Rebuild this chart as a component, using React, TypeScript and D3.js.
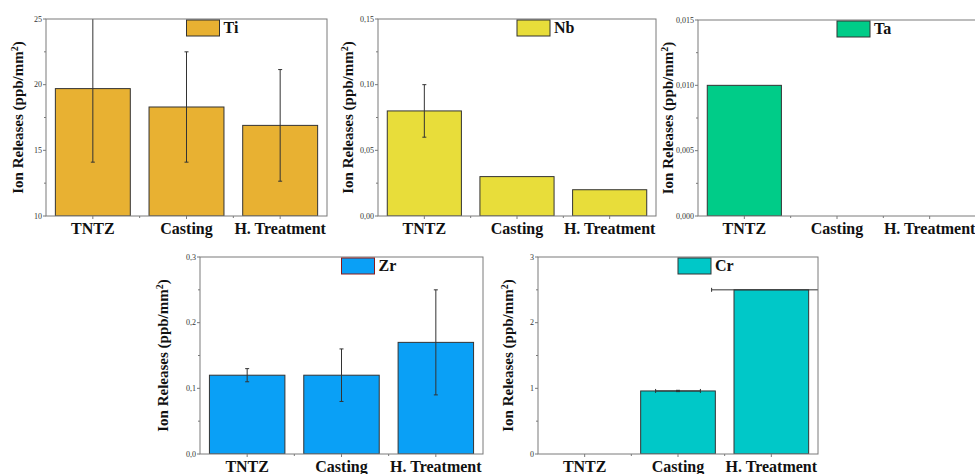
import * as d3 from "d3";
import React from "react";

// categories shared by every panel
const categories = ["TNTZ", "Casting", "H. Treatment"];

// ion release values (ppb/mm2) and error bars
const tiValues = [19.7, 18.3, 16.9];
const tiErrors = [5.6, 4.2, 4.25];
const nbValues = [0.08, 0.03, 0.02];
const nbErrors = [0.02, 0, 0];
const taValues = [0.01, 0, 0];
const taErrors = [0, 0, 0];
const zrValues = [0.12, 0.12, 0.17];
const zrErrors = [0.01, 0.04, 0.08];
const crValues = [0, 0.96, 2.5];
const crErrors = [0, 0.01, 0];
const crXErrors = [0, 0.24, 0.64];

const tiTicks = [10, 15, 20, 25];
const nbTicks = [0, 0.05, 0.1, 0.15];
const taTicks = [0, 0.005, 0.01, 0.015];
const zrTicks = [0, 0.1, 0.2, 0.3];
const crTicks = [0, 1, 2, 3];

const serif = "'Liberation Serif', 'Times New Roman', serif";

type PanelProps = {
  id: string;
  name: string;
  values: number[];
  errors: number[];
  xErrors?: number[];
  ticks: number[];
  decimals: number;
  color: string;
  legendStroke?: string;
  left: number;
  right: number;
  top: number;
  bottom: number;
  labelOffset: number;
};

const fmt = (v: number, d: number) => v.toFixed(d).replace(".", ",");

const Panel = (p: PanelProps) => {
  const x = d3.scaleLinear().domain([0.5, 3.5]).range([p.left, p.right]);
  const y = d3
    .scaleLinear()
    .domain([p.ticks[0], p.ticks[p.ticks.length - 1]])
    .range([p.bottom, p.top]);
  const step = p.ticks[1] - p.ticks[0];
  const minor = p.ticks.slice(0, -1).map((t) => t + step / 2);
  const bw = x(1.4) - x(1);
  const cap = 2;
  const clip = "clip-" + p.id;
  const y0 = p.ticks[0];

  return (
    <g>
      <defs>
        <clipPath id={clip}>
          <rect x={p.left} y={p.top} width={p.right - p.left} height={p.bottom - p.top} />
        </clipPath>
      </defs>
      <g clipPath={`url(#${clip})`}>
        {p.values.map((v, i) =>
          v > y0 ? (
            <rect
              key={i}
              x={x(i + 1) - bw}
              y={y(v)}
              width={bw * 2}
              height={y(y0) - y(v)}
              fill={p.color}
              stroke="#333"
              strokeWidth={1}
            />
          ) : null
        )}
        {p.values.map((v, i) =>
          p.errors[i] > 0 ? (
            <g key={"e" + i} stroke="#333" strokeWidth={1}>
              <line x1={x(i + 1)} x2={x(i + 1)} y1={y(v - p.errors[i])} y2={y(v + p.errors[i])} />
              <line x1={x(i + 1) - cap} x2={x(i + 1) + cap} y1={y(v - p.errors[i])} y2={y(v - p.errors[i])} />
              <line x1={x(i + 1) - cap} x2={x(i + 1) + cap} y1={y(v + p.errors[i])} y2={y(v + p.errors[i])} />
            </g>
          ) : null
        )}
        {p.xErrors &&
          p.xErrors.map((e, i) =>
            e > 0 ? (
              <g key={"xe" + i} stroke="#333" strokeWidth={1}>
                <line x1={x(i + 1 - e)} x2={x(i + 1 + e)} y1={y(p.values[i])} y2={y(p.values[i])} />
                <line x1={x(i + 1 - e)} x2={x(i + 1 - e)} y1={y(p.values[i]) - cap} y2={y(p.values[i]) + cap} />
                <line x1={x(i + 1 + e)} x2={x(i + 1 + e)} y1={y(p.values[i]) - cap} y2={y(p.values[i]) + cap} />
              </g>
            ) : null
          )}
      </g>
      <rect
        x={p.left}
        y={p.top}
        width={p.right - p.left}
        height={p.bottom - p.top}
        fill="none"
        stroke="#7a7a7a"
        strokeWidth={1}
      />
      {/* y axis ticks */}
      {p.ticks.map((t) => (
        <g key={"yt" + t}>
          <line x1={p.left - 3} x2={p.left} y1={y(t)} y2={y(t)} stroke="#7a7a7a" />
          <text
            x={p.left - 4}
            y={y(t)}
            dy="0.32em"
            textAnchor="end"
            fontFamily={serif}
            fontSize={8}
            fill="#333"
          >
            {fmt(t, p.decimals)}
          </text>
        </g>
      ))}
      {minor.map((t) => (
        <line key={"ym" + t} x1={p.left - 2} x2={p.left} y1={y(t)} y2={y(t)} stroke="#7a7a7a" />
      ))}
      {/* x axis ticks */}
      {categories.map((c, i) => (
        <g key={c}>
          <line x1={x(i + 1)} x2={x(i + 1)} y1={p.bottom} y2={p.bottom + 3} stroke="#7a7a7a" />
          <text
            x={x(i + 1)}
            y={p.bottom + 18}
            textAnchor="middle"
            fontFamily={serif}
            fontWeight="bold"
            fontSize={16}
            fill="#111"
          >
            {c}
          </text>
        </g>
      ))}
      {[1.5, 2.5].map((m) => (
        <line key={"xm" + m} x1={x(m)} x2={x(m)} y1={p.bottom} y2={p.bottom + 2} stroke="#7a7a7a" />
      ))}
      {/* y label */}
      <text
        transform={`translate(${p.left - p.labelOffset},${(p.top + p.bottom) / 2}) rotate(-90)`}
        dy="0.35em"
        textAnchor="middle"
        fontFamily={serif}
        fontWeight="bold"
        fontSize={15}
        fill="#111"
      >
        Ion Releases (ppb/mm
        <tspan dy="-5" fontSize={10}>
          2
        </tspan>
        <tspan dy="5">)</tspan>
      </text>
      {/* legend */}
      <rect
        x={x(2)}
        y={p.top + 1}
        width={33}
        height={16}
        fill={p.color}
        stroke={p.legendStroke || "#333"}
        strokeWidth={1}
      />
      <text
        x={x(2) + 37}
        y={p.top + 14}
        fontFamily={serif}
        fontWeight="bold"
        fontSize={16}
        fill="#111"
      >
        {p.name}
      </text>
    </g>
  );
};

export default function App() {
  return (
    <svg
      width={975}
      height={474}
      style={{ position: "absolute", left: 0, top: 0, background: "#fff" }}
    >
      <Panel id="ti" name="Ti" values={tiValues} errors={tiErrors} ticks={tiTicks} decimals={0}
        color="#E8B132" left={46} right={327} top={19} bottom={216} labelOffset={28} />
      <Panel id="nb" name="Nb" values={nbValues} errors={nbErrors} ticks={nbTicks} decimals={2}
        color="#E8DD3A" left={378} right={656} top={19} bottom={216} labelOffset={30} />
      <Panel id="ta" name="Ta" values={taValues} errors={taErrors} ticks={taTicks} decimals={3}
        color="#00CC88" left={698} right={976} top={20} bottom={216} labelOffset={30} />
      <Panel id="zr" name="Zr" values={zrValues} errors={zrErrors} ticks={zrTicks} decimals={1}
        color="#0AA0F6" legendStroke="#8B1A1A" left={200} right={483} top={257} bottom={454} labelOffset={37} />
      <Panel id="cr" name="Cr" values={crValues} errors={crErrors} xErrors={crXErrors} ticks={crTicks} decimals={0}
        color="#00C8C8" left={538} right={818} top={257} bottom={454} labelOffset={30} />
    </svg>
  );
}
